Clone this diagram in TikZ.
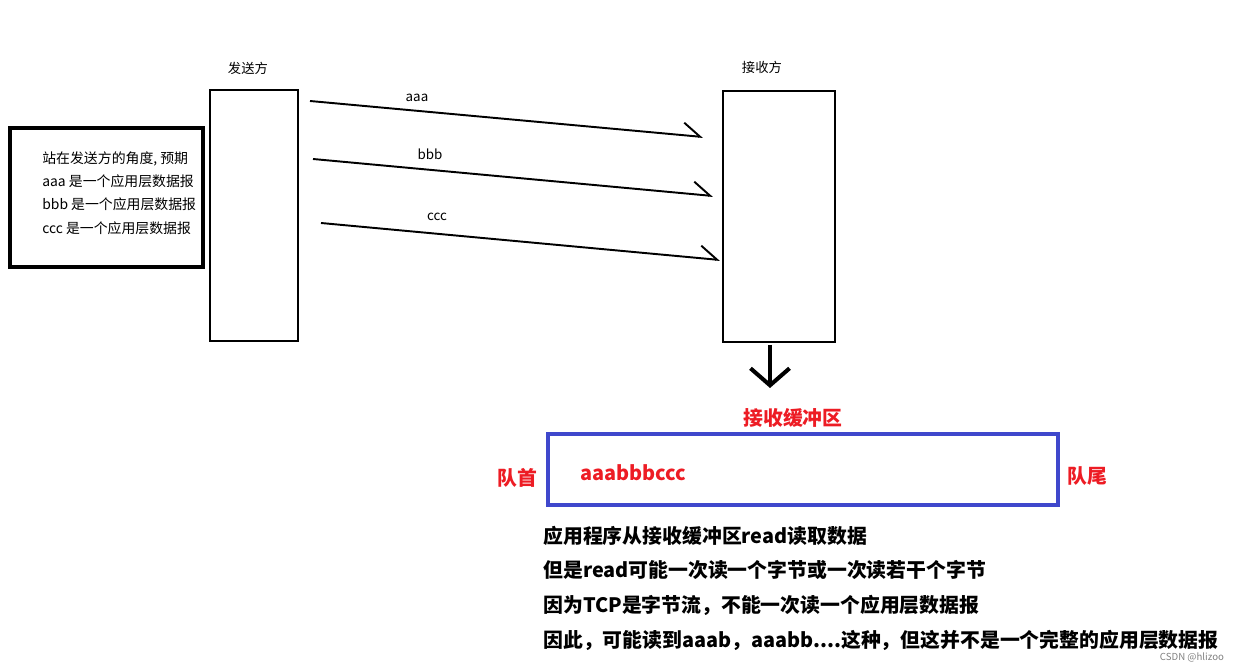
\documentclass[tikz,border=0pt]{standalone}
\usepackage{fontspec}
\setmainfont{Noto Sans CJK SC}
\usepackage{tikz}
\usetikzlibrary{arrows.meta, positioning}

\definecolor{paintred}{HTML}{ED1C24}
\definecolor{paintblue}{HTML}{3F48CC}

\begin{document}
\begin{tikzpicture}[
    x=0.02cm, y=-0.02cm,
    every node/.style={font=\fontsize{7.6}{9.5}\selectfont, inner sep=0pt},
    party/.style={rectangle, draw=black, line width=1.1pt, minimum height=5.02cm},
    notebox/.style={rectangle, draw=black, line width=2.8pt, minimum width=3.86cm, minimum height=2.78cm},
    bufbox/.style={rectangle, draw=paintblue, line width=2.3pt, minimum width=10.2cm, minimum height=1.42cm},
    redlabel/.style={text=paintred, font=\fontsize{11.3}{13}\selectfont\bfseries},
    explain/.style={anchor=west, font=\fontsize{11.3}{13}\selectfont\bfseries},
    msg/.style={line width=1.1pt, -{Straight Barb[left, length=0.34cm, width=0.5cm, line width=1.1pt]}}
]
    \useasboundingbox (0,0) rectangle (1250,668);

    % sender and receiver
    \node[party, minimum width=1.76cm] (sender) at (254,215.5) {};
    \node[party, minimum width=2.24cm] (receiver) at (779,216.5) {};
    \node (sendlbl) at (248,68) {发送方};
    \node (recvlbl) at (762,67) {接收方};

    % note on the left
    \node[notebox] (notebox) at (106.5,197.5) {};
    \node[anchor=west, align=left, font=\fontsize{7.9}{13.2}\selectfont] (note) at (42,193)
        {站在发送方的角度, 预期\\aaa 是一个应用层数据报\\bbb 是一个应用层数据报\\ccc 是一个应用层数据报};

    % messages
    \coordinate (a1) at (310,101);
    \coordinate (a2) at (703,137);
    \coordinate (b1) at (313,159);
    \coordinate (b2) at (713,196);
    \coordinate (c1) at (321,223);
    \coordinate (c2) at (720,260);
    \draw[msg] (a1) -- (a2);
    \draw[msg] (b1) -- (b2);
    \draw[msg] (c1) -- (c2);
    \node (aaa) at (417,98) {aaa};
    \node (bbb) at (430,154) {bbb};
    \node (ccc) at (437,217) {ccc};

    % into the buffer
    \coordinate (d1) at (770,345);
    \coordinate (d2) at (770,388);
    \draw[line width=2.3pt, -{Straight Barb[length=0.34cm, width=0.78cm, line width=2.3pt]}] (d1) -- (d2);

    \node[redlabel] (buflbl) at (793,418) {接收缓冲区};
    \node[bufbox] (buffer) at (803,469.5) {};
    \node[redlabel] (head) at (517,478) {队首};
    \node[redlabel] (tail) at (1087,476) {队尾};
    \node[redlabel, anchor=west] (data) at (580,473) {aaabbbccc};

    % explanation
    \node[explain] (l1) at (543,536) {应用程序从接收缓冲区read读取数据};
    \node[explain] (l2) at (543,570) {但是read可能一次读一个字节或一次读若干个字节};
    \node[explain] (l3) at (543,605) {因为TCP是字节流，不能一次读一个应用层数据报};
    \node[explain] (l4) at (543,640) {因此，可能读到aaab，aaabb....这种，但这并不是一个完整的应用层数据报};

    \node[text=gray, font=\fontsize{5.5}{6}\selectfont] (mark) at (1192,657) {CSDN @hlizoo};
\end{tikzpicture}
\end{document}
